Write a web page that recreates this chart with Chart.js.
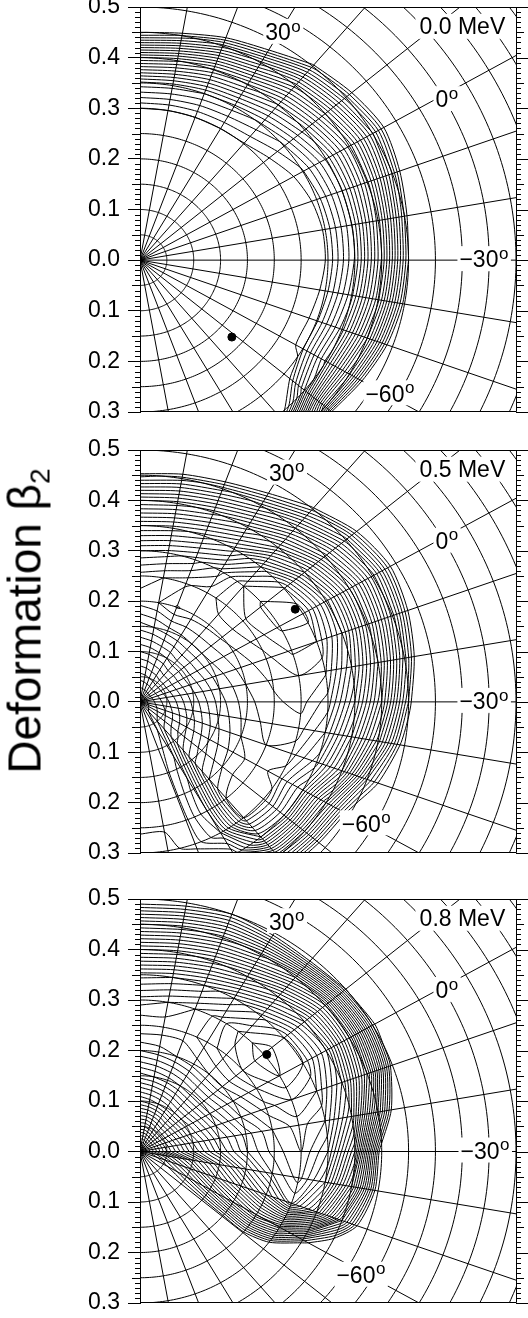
<!DOCTYPE html>
<html><head><meta charset="utf-8">
<script src="https://cdn.jsdelivr.net/npm/chart.js@4.4.1/dist/chart.umd.min.js"></script>
<style>
html,body{margin:0;padding:0;background:#fff;}
body{width:528px;height:1318px;position:relative;overflow:hidden;font-family:"Liberation Sans",Arial,sans-serif;}
canvas{position:absolute;left:0;}
#ylab{position:absolute;left:28px;top:621px;transform:translate(-50%,-50%) rotate(-90deg);white-space:nowrap;font-size:46px;color:#000;line-height:1;}
#ylab sub{font-size:28px;vertical-align:-9px;}
</style></head><body>
<canvas id="c0"></canvas><canvas id="c1"></canvas><canvas id="c2"></canvas>
<div id="ylab">Deformation β<sub>2</sub></div>
<script>
// ---------- data ----------
const frequencyLabels = ['0.0 MeV', '0.5 MeV', '0.8 MeV'];
const gammaLabelValues = ['30', '0', '\u221230', '\u221260'];
const yTickValues = [0.5, 0.4, 0.3, 0.2, 0.1, 0.0, -0.1, -0.2, -0.3];
// polar mesh: theta = gamma + 30 (degrees), beta2
const thetaRays = [90, 80, 70, 60, 50, 40, 30, 20, 10, 0, -10, -20, -30, -40, -50, -60, -70, -80, -90];
const betaNodes = [0, 0.05, 0.1, 0.15, 0.2, 0.25, 0.3, 0.35, 0.4, 0.45, 0.5, 0.55, 0.6];
// Routhian in units of the contour spacing, one row per ray
const routhian00 = [
 [0,0,0,0,0,0, 1.0, 5.7, 13.9, 24.2, 35.6, 47, 58],
 [0,0,0,0,0,0, 1.0, 5.5, 13.2, 22.9, 33.9, 45, 56],
 [0,0,0,0,0,0, 1.0, 5.0, 11.8, 20.5, 30.5, 41, 51],
 [0,0,0,0,0,0, 1.0, 4.6, 10.8, 18.6, 27.8, 37, 46],
 [0,0,0,0,0,0, 0.9, 3.8, 8.9, 15.5, 23.5, 31.5, 40],
 [0,0,0,0,0,0, 0.3, 2.8, 7.6, 14.0, 21.5, 30, 38],
 [0,0,0,0,0,0, -0.3, 1.85, 6.2, 12.4, 19.9, 28.4, 37],
 [0,0,0,0,0,0, -0.5, 1.37, 5.9, 12.7, 21.2, 30.8, 39],
 [0,0,0,0,0,0, -0.35, 1.15, 5.9, 13.5, 23.0, 33.6, 44],
 [0,0,0,0,0,0, -0.35, 1.15, 6.1, 14.1, 24.0, 35, 46],
 [0,0,0,0,0,0, -0.7, 1.44, 6.7, 14.7, 24.7, 36, 47],
 [0,0,0,0,0,0, -0.8, 1.78, 7.5, 15.9, 26.2, 37, 48],
 [0,0,0,0,0,0, -1.0, 1.87, 8.3, 17.8, 29.2, 40, 52],
 [0,0,0,0,0,0, -1.0, -1.0, 6.1, 18.9, 35, 52, 69],
 [0,0,0,0,0,-2, -1.5, -1, -0.5, 12, 45, 70, 95],
 [0,0,0,0,0,-3, -3, -2, 1, 12, 30, 50, 70],
 [0,0,0,0,0,-4, -4, -3, 0, 8, 25, 45, 65],
 [0,0,0,0,0,-4, -4, -3, 0, 8, 25, 45, 65],
 [0,0,0,0,0,-4, -4, -3, 0, 8, 25, 45, 65]
];
const routhian05 = [
 [18, 14.5, 11, 7.5, 4.5, 5.5, 9, 14, 20, 27.5, 36, 44, 52],
 [18, 14.3, 10.7, 7, 4, 5, 8.5, 13.5, 19.5, 26.5, 35, 43, 51],
 [18, 14, 10.3, 6.5, 2.9, 4.2, 7.5, 12.5, 18.5, 25.5, 34, 42, 50],
 [18, 13.8, 10, 6.2, 3.4, 3.4, 5.5, 10.5, 16.5, 23.5, 31.5, 40, 48],
 [18, 13.5, 9.5, 6, 3.6, 2.5, 2, 6, 13, 20, 27.5, 36, 45],
 [18, 13.5, 9.5, 6, 3.8, 2.2, 0.8, 1.8, 9, 16.5, 23.5, 32, 42],
 [18, 13.5, 9.5, 6.2, 4.2, 2.6, 0.8, 0.5, 6.5, 14, 21.5, 30, 40],
 [18, 13.7, 9.8, 6.6, 4.6, 3.3, 1.8, 2, 7, 14.5, 22.5, 31.5, 41],
 [18, 14, 10.2, 7, 5, 3.8, 3, 3.8, 9, 16, 24.5, 34, 44],
 [18, 14.3, 10.6, 7.4, 5.3, 4.2, 3.6, 5.5, 11, 18, 27, 37, 47],
 [18, 14.6, 11, 7.8, 5.6, 4.5, 4.5, 7, 13, 20.5, 29.5, 39, 49],
 [18, 15, 11.5, 8.3, 6, 5, 5.5, 8.5, 15, 25, 32, 42, 52],
 [18, 15.3, 12, 8.8, 6.5, 5.5, 6.5, 11, 20, 29.5, 38, 47, 56],
 [18, 15.6, 12.5, 9.5, 7, 5, 5.5, 11, 21, 31, 40, 49, 58],
 [18, 16, 13.5, 10.5, 8, 6, 6, 12, 22, 32, 41, 50, 59],
 [18, 17.2, 16.5, 15.5, 14.5, 14, 15, 19, 25, 33, 42, 51, 60],
 [18, 17.6, 17.4, 17.2, 17.2, 17.3, 17.6, 19.5, 26, 34, 43, 52, 61],
 [18, 17.9, 17.8, 17.8, 17.8, 17.9, 18.3, 20, 27, 35, 44, 53, 62],
 [18, 17.9, 17.8, 17.8, 17.8, 17.9, 18.3, 21, 28, 36, 45, 54, 63]
];
const routhian08 = [
 [32, 24, 17, 11.5, 7, 4, 6.5, 10.5, 17, 24, 31.5, 40, 48],
 [32, 24, 16.5, 11, 6.5, 4.3, 6, 10, 16.5, 23.5, 31, 39, 47],
 [32, 23.5, 16, 10.5, 6, 4.5, 5, 9, 15.5, 22.5, 30, 38, 46],
 [32, 23, 15.5, 10, 5.5, 3.5, 3.5, 7, 14, 21.5, 31, 38, 46],
 [32, 22.5, 15, 9.5, 5, 2.5, 1.5, 4.5, 11, 19, 32, 40, 48],
 [32, 22.5, 15, 9.5, 5, 2, 0.3, 2, 8, 16, 30, 40, 50],
 [32, 22.5, 15.5, 10, 6, 3, 1, 2, 7, 16, 29, 40, 50],
 [32, 23, 16, 11, 7, 4.5, 3, 4, 9, 18, 31, 42, 52],
 [32, 23.5, 17, 12, 8.5, 6, 4.5, 6, 12, 24, 36, 48, 58],
 [32, 24, 18, 13, 9, 6.5, 5, 8, 16, 31.5, 45, 57, 68],
 [32, 27, 22, 17, 12, 8, 5.5, 10, 19, 31.5, 48, 60, 72],
 [32, 29, 25, 20, 16, 12, 8, 14, 24, 34, 50, 64, 76],
 [32, 30.5, 28, 25, 22, 20, 21.6, 28.5, 35, 45, 58, 70, 82],
 [32, 31, 31, 30.8, 30.6, 30.5, 34, 42, 52, 62, 72, 82, 92],
 [32, 31.5, 31.5, 31.5, 32, 36, 44, 52, 62, 72, 82, 92, 100],
 [32, 31.5, 31.5, 31.5, 33, 37, 44, 52, 62, 72, 82, 92, 100],
 [32, 31.5, 31.5, 31.5, 33, 37, 44, 52, 62, 72, 82, 92, 100],
 [32, 31.5, 31.5, 31.5, 33, 37, 44, 52, 62, 72, 82, 92, 100],
 [32, 31.5, 31.5, 31.5, 33, 37, 44, 52, 62, 72, 82, 92, 100]
];
const levels00 = [1,2,3,4,5,6,7,8,9,10,11,12,13,14,15,16,17,18,19,20,21,22,23,24];
const levels05 = [1,2,3,4,5,6,7,8,9,10,11,12,13,14,15,16,17,18,19,20,21,22,23,24,25,26,27,28];
const levels08 = [1,2,3,4,5,6,7,8,9,10,11,12,13,14,15,16,17,18,19,20,21,22,23,24,25,26,27,28,29,30];
// yrast minima (x = beta cos(gamma+30), y = beta sin(gamma+30))
const minimum00 = [{x: 0.171, y: -0.152}];
const minimum05 = [{x: 0.289, y: 0.184}];
const minimum08 = [{x: 0.236, y: 0.192}];

// ---------- layout / style ----------
const FONT = '"Liberation Sans", Arial, Helvetica, sans-serif';
const panelBoxes = [{top: 7, bottom: 412}, {top: 450, bottom: 853}, {top: 899, bottom: 1303}];
const gammaLabelPos = [
  [[0.257, 0.449], [0.562, 0.316], [0.631, 0.0], [0.456, -0.265]],
  [[0.264, 0.453], [0.562, 0.318], [0.631, 0.0], [0.412, -0.243]],
  [[0.264, 0.454], [0.562, 0.318], [0.633, 0.0], [0.402, -0.246]]
];
const PAD = 30;

// ---------- contour tracing on the polar mesh ----------
function traceLevel(G, L) {
  const R = G.length, B = G[0].length;
  const pts = {};
  const dTh = thetaRays[1] - thetaRays[0], dB = betaNodes[1] - betaNodes[0];
  function edge(key, r0, b0, r1, b1) {
    if (!(key in pts)) {
      const v0 = G[r0][b0], v1 = G[r1][b1];
      const t = (L - v0) / (v1 - v0);
      const r = r0 + (r1 - r0) * t, b = b0 + (b1 - b0) * t;
      const th = (thetaRays[0] + dTh * r) * Math.PI / 180;
      const be = betaNodes[0] + dB * b;
      pts[key] = {x: be * Math.cos(th), y: be * Math.sin(th)};
    }
    return key;
  }
  const segs = [];
  for (let r = 0; r < R - 1; r++) {
    for (let b = 0; b < B - 1; b++) {
      const v = [G[r][b], G[r][b + 1], G[r + 1][b + 1], G[r + 1][b]];
      const ab = v.map(q => q >= L);
      const E = [
        () => edge('R' + r + '_' + b, r, b, r, b + 1),
        () => edge('A' + (b + 1) + '_' + r, r, b + 1, r + 1, b + 1),
        () => edge('R' + (r + 1) + '_' + b, r + 1, b, r + 1, b + 1),
        () => edge('A' + b + '_' + r, r, b, r + 1, b)
      ];
      const cr = [0, 1, 2, 3].filter(i => ab[i] !== ab[(i + 1) % 4]);
      if (cr.length === 2) segs.push([E[cr[0]](), E[cr[1]]()]);
      else if (cr.length === 4) {
        const c = (v[0] + v[1] + v[2] + v[3]) / 4 >= L;
        if (c === ab[0]) { segs.push([E[0](), E[1]()]); segs.push([E[2](), E[3]()]); }
        else { segs.push([E[3](), E[0]()]); segs.push([E[1](), E[2]()]); }
      }
    }
  }
  const adj = {};
  segs.forEach((s, i) => s.forEach(k => (adj[k] = adj[k] || []).push(i)));
  const used = segs.map(() => false);
  const lines = [];
  function extend(chain) {
    for (;;) {
      const last = chain[chain.length - 1];
      const nx = (adj[last] || []).find(j => !used[j]);
      if (nx === undefined) return;
      used[nx] = true;
      const s = segs[nx];
      chain.push(s[0] === last ? s[1] : s[0]);
    }
  }
  segs.forEach((s, i) => {
    if (used[i]) return;
    used[i] = true;
    let chain = [s[0], s[1]];
    extend(chain);
    chain.reverse();
    extend(chain);
    lines.push(chain.map(k => pts[k]));
  });
  return lines;
}

// ---------- plugin: polar grid, frame, minor ticks, labels ----------
const trsPlugin = {
  id: 'trs',
  beforeDatasetsDraw(chart) {
    const {ctx, chartArea: a, scales: {x, y}} = chart;
    const X = v => x.getPixelForValue(v), Y = v => y.getPixelForValue(v);
    ctx.save();
    ctx.beginPath(); ctx.rect(a.left, a.top, a.right - a.left, a.bottom - a.top); ctx.clip();
    ctx.strokeStyle = '#000'; ctx.lineWidth = 1;
    for (let k = 1; k <= 18; k++) {
      const r = 0.05 * k;
      ctx.beginPath();
      for (let d = -90; d <= 90; d += 1) {
        const t = d * Math.PI / 180;
        const px = X(r * Math.cos(t)), py = Y(r * Math.sin(t));
        if (d === -90) ctx.moveTo(px, py); else ctx.lineTo(px, py);
      }
      ctx.stroke();
    }
    for (const th of thetaRays) {
      const t = th * Math.PI / 180;
      ctx.beginPath(); ctx.moveTo(X(0), Y(0)); ctx.lineTo(X(1.5 * Math.cos(t)), Y(1.5 * Math.sin(t))); ctx.stroke();
    }
    ctx.restore();
  },
  afterDatasetsDraw(chart) {
    const {ctx, chartArea: a, scales: {x, y}} = chart;
    const X = v => x.getPixelForValue(v), Y = v => y.getPixelForValue(v);
    const idx = chart.options.plugins.trs.panel;
    ctx.save();
    ctx.textBaseline = 'middle';
    gammaLabelValues.forEach((txt, i) => {
      const [dx, dy] = gammaLabelPos[idx][i];
      const cx = X(dx), cy = Y(dy);
      ctx.font = '23px ' + FONT;
      const w = ctx.measureText(txt).width;
      ctx.font = '17px ' + FONT;
      const wo = ctx.measureText('o').width;
      ctx.fillStyle = '#fff';
      ctx.fillRect(cx - w / 2 - 2, cy - 14, w + wo + 5, 25);
      ctx.fillStyle = '#000';
      ctx.font = '23px ' + FONT; ctx.textAlign = 'center';
      ctx.fillText(txt, cx, cy + 1);
      ctx.font = '17px ' + FONT; ctx.textAlign = 'left';
      ctx.fillText('o', cx + w / 2 + 0.5, cy - 6);
    });
    ctx.font = '23px ' + FONT; ctx.textAlign = 'right'; ctx.textBaseline = 'alphabetic';
    const lbl = frequencyLabels[idx];
    const lw = ctx.measureText(lbl).width;
    const rx = X(0.68), by = Y(0.447);
    ctx.fillStyle = '#fff'; ctx.fillRect(rx - lw - 4, by - 20, lw + 8, 25);
    ctx.fillStyle = '#000'; ctx.fillText(lbl, rx, by);
    ctx.strokeStyle = '#000'; ctx.lineWidth = 1;
    ctx.beginPath();
    ctx.moveTo(a.left, a.top + 0.5); ctx.lineTo(a.right + 0.5, a.top + 0.5);
    ctx.lineTo(a.right + 0.5, a.bottom - 0.5); ctx.lineTo(a.left, a.bottom - 0.5);
    ctx.stroke();
    ctx.beginPath();
    for (let k = -30; k <= 50; k++) {
      const py = Math.round(Y(k / 100)) + 0.5;
      const len = k % 10 === 0 ? 12 : (k % 5 === 0 ? 8 : 5);
      if (k % 10 !== 0) { ctx.moveTo(a.left - len, py); ctx.lineTo(a.left, py); }
      ctx.moveTo(a.right, py); ctx.lineTo(a.right + len, py);
    }
    ctx.stroke();
    ctx.restore();
  }
};

function makePanel(i, grid, levels, minimum) {
  const box = panelBoxes[i];
  const cv = document.getElementById('c' + i);
  const H = box.bottom - box.top + 2 * PAD;
  cv.width = 528; cv.height = H;
  cv.style.width = '528px'; cv.style.height = H + 'px';
  cv.style.top = (box.top - PAD) + 'px';
  const datasets = [{
    data: minimum, pointRadius: 4, pointBackgroundColor: '#000', pointBorderColor: '#000', showLine: false
  }];
  levels.forEach(L => {
    traceLevel(grid, L).forEach(line => datasets.push({
      data: line, showLine: true, borderColor: '#000', borderWidth: 1, pointRadius: 0, tension: 0.25, fill: false
    }));
  });
  new Chart(cv, {
    type: 'scatter',
    data: {datasets},
    options: {
      responsive: false, animation: false, devicePixelRatio: 1,
      layout: {padding: {top: PAD, bottom: PAD, left: 0, right: 12}},
      plugins: {legend: {display: false}, tooltip: {enabled: false}, trs: {panel: i}},
      scales: {
        x: {type: 'linear', min: 0, max: 0.7, display: false},
        y: {
          type: 'linear', min: -0.3, max: 0.5, position: 'left',
          afterBuildTicks: s => { s.ticks = yTickValues.map(v => ({value: v})); },
          afterFit: s => { s.width = 140; },
          ticks: {callback: v => Math.abs(v).toFixed(1), color: '#000', font: {family: FONT, size: 23}, padding: 8},
          grid: {drawOnChartArea: false, drawTicks: true, tickLength: 12, color: '#000', lineWidth: 1},
          border: {display: true, color: '#000', width: 1}
        }
      }
    },
    plugins: [trsPlugin]
  });
}
makePanel(0, routhian00, levels00, minimum00);
makePanel(1, routhian05, levels05, minimum05);
makePanel(2, routhian08, levels08, minimum08);
</script>
</body></html>
